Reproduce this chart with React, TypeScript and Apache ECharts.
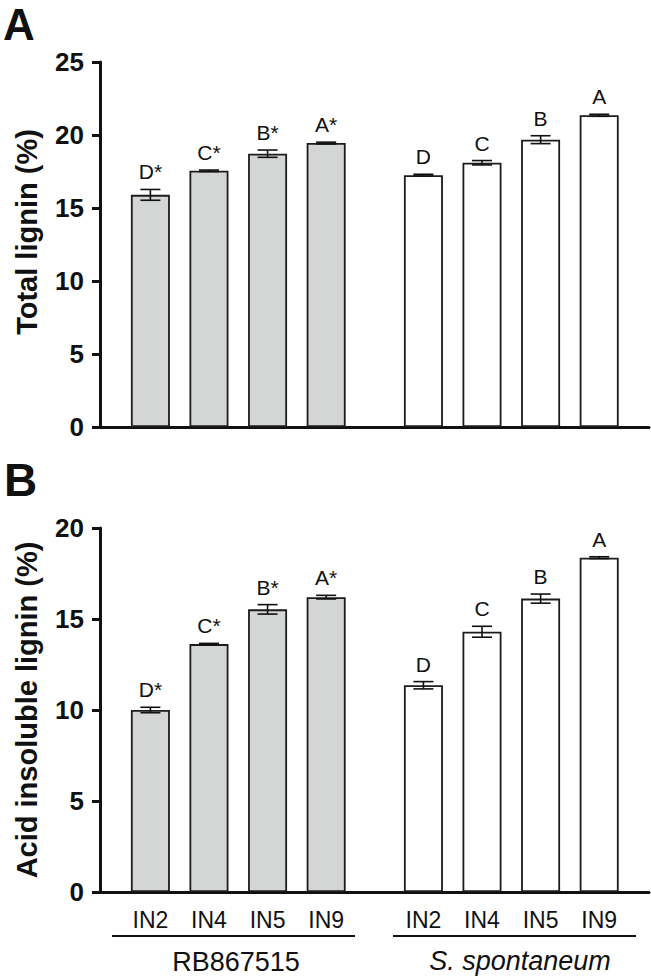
import React, { useEffect, useRef } from "react";
import * as echarts from "echarts";

// ---------- data ----------
const intervals = ["IN2", "IN4", "IN5", "IN9"];
const genotypes = ["RB867515", "S. spontaneum"];

// Panel A: total lignin (%)
const totalRB = [15.9, 17.55, 18.72, 19.45];
const totalRBErr = [0.37, 0.05, 0.25, 0.06];
const totalRBLetters = ["D*", "C*", "B*", "A*"];
const totalSS = [17.25, 18.1, 19.68, 21.35];
const totalSSErr = [0.06, 0.15, 0.27, 0.07];
const totalSSLetters = ["D", "C", "B", "A"];

// Panel B: acid insoluble lignin (%)
const ailRB = [10.0, 13.62, 15.53, 16.2];
const ailRBErr = [0.15, 0.04, 0.26, 0.1];
const ailRBLetters = ["D*", "C*", "B*", "A*"];
const ailSS = [11.36, 14.3, 16.12, 18.37];
const ailSSErr = [0.2, 0.3, 0.25, 0.05];
const ailSSLetters = ["D", "C", "B", "A"];

const yMaxA = 25;
const yMaxB = 20;
const yStep = 5;

// category slots on the x scale (group start, one slot per internode)
const groupStart = [1, 5.66];
const xMin = 0.14;
const xMax = 9.51;

const FONT = "'Liberation Sans', Arial, Helvetica, sans-serif";
const INK = "#111111";
const GREY = "#d4d6d5";

const positions = (g: number) => intervals.map((_, i) => groupStart[g] + i);

function barSeries(name: string, g: number, values: number[], color: string, axis: number) {
  const pos = positions(g);
  return {
    type: "bar",
    name,
    xAxisIndex: axis,
    yAxisIndex: axis,
    barWidth: 39,
    barGap: "-100%",
    data: values.map((v, i) => [pos[i], v]),
    itemStyle: { color, borderColor: "#1c1c1c", borderWidth: 1.8 },
    z: 2,
  };
}

function errSeries(g: number, values: number[], errs: number[], letters: string[], axis: number) {
  const pos = positions(g);
  return {
    type: "custom",
    xAxisIndex: axis,
    yAxisIndex: axis,
    z: 5,
    clip: false,
    data: values.map((v, i) => [pos[i], v, errs[i]]),
    renderItem: (params: any, api: any) => {
      const x = api.value(0);
      const m = api.value(1);
      const e = api.value(2);
      const top = api.coord([x, m + e]);
      const bot = api.coord([x, m - e]);
      const cap = 10;
      const ls = { stroke: INK, lineWidth: 1.6 };
      return {
        type: "group",
        children: [
          { type: "line", shape: { x1: top[0], y1: top[1], x2: bot[0], y2: bot[1] }, style: ls },
          { type: "line", shape: { x1: top[0] - cap, y1: top[1], x2: top[0] + cap, y2: top[1] }, style: ls },
          { type: "line", shape: { x1: bot[0] - cap, y1: bot[1], x2: bot[0] + cap, y2: bot[1] }, style: ls },
          {
            type: "text",
            x: top[0],
            y: top[1] - 7,
            style: {
              text: letters[params.dataIndex],
              fontSize: 21,
              fontFamily: FONT,
              fill: INK,
              textAlign: "center",
              textVerticalAlign: "bottom",
            },
          },
        ],
      };
    },
  };
}

function yAxisCfg(grid: number, max: number) {
  return {
    type: "value",
    gridIndex: grid,
    min: 0,
    max,
    interval: yStep,
    axisLine: { show: true, lineStyle: { color: INK, width: 3 } },
    axisTick: { show: true, length: 8, inside: false, lineStyle: { color: INK, width: 3 } },
    axisLabel: { color: INK, fontSize: 26, fontWeight: "bold", fontFamily: FONT, margin: 16 },
    splitLine: { show: false },
  };
}

const allPos = [...positions(0), ...positions(1)];

export default function App() {
  const ref = useRef<HTMLDivElement>(null);

  useEffect(() => {
    if (!ref.current) return;
    const chart = echarts.init(ref.current, undefined, { renderer: "svg" });
    chart.setOption({
      animation: false,
      backgroundColor: "#ffffff",
      grid: [
        { left: 100, top: 62, width: 549, height: 365 },
        { left: 100, top: 528, width: 549, height: 364 },
      ],
      xAxis: [
        {
          type: "value",
          gridIndex: 0,
          min: xMin,
          max: xMax,
          axisLine: { show: true, onZero: false, lineStyle: { color: INK, width: 3 } },
          axisTick: { show: false },
          axisLabel: { show: false },
          splitLine: { show: false },
        },
        {
          type: "value",
          gridIndex: 1,
          min: xMin,
          max: xMax,
          axisLine: { show: true, onZero: false, lineStyle: { color: INK, width: 3 } },
          axisTick: { show: false },
          axisLabel: {
            show: true,
            customValues: allPos,
            color: INK,
            fontSize: 23,
            fontFamily: FONT,
            margin: 16,
            formatter: (v: number) => {
              let best = 0;
              allPos.forEach((p, i) => {
                if (Math.abs(p - v) < Math.abs(allPos[best] - v)) best = i;
              });
              return intervals[best % intervals.length];
            },
          },
          splitLine: { show: false },
        },
      ],
      yAxis: [yAxisCfg(0, yMaxA), yAxisCfg(1, yMaxB)],
      series: [
        barSeries(genotypes[0], 0, totalRB, GREY, 0),
        barSeries(genotypes[1], 1, totalSS, "#ffffff", 0),
        errSeries(0, totalRB, totalRBErr, totalRBLetters, 0),
        errSeries(1, totalSS, totalSSErr, totalSSLetters, 0),
        barSeries(genotypes[0], 0, ailRB, GREY, 1),
        barSeries(genotypes[1], 1, ailSS, "#ffffff", 1),
        errSeries(0, ailRB, ailRBErr, ailRBLetters, 1),
        errSeries(1, ailSS, ailSSErr, ailSSLetters, 1),
      ],
      graphic: [
        {
          type: "text",
          x: 3,
          y: 24,
          style: {
            text: "A",
            font: `bold 44px ${FONT}`,
            fill: INK,
            textAlign: "left",
            textVerticalAlign: "middle",
          },
        },
        {
          type: "text",
          x: 4,
          y: 480,
          style: {
            text: "B",
            font: `bold 46px ${FONT}`,
            fill: INK,
            textAlign: "left",
            textVerticalAlign: "middle",
          },
        },
        {
          type: "text",
          x: 27,
          y: 232,
          rotation: Math.PI / 2,
          style: {
            text: "Total lignin (%)",
            font: `bold 29px ${FONT}`,
            fill: INK,
            textAlign: "center",
            textVerticalAlign: "middle",
          },
        },
        {
          type: "text",
          x: 27,
          y: 710,
          rotation: Math.PI / 2,
          style: {
            text: "Acid insoluble lignin (%)",
            font: `bold 29px ${FONT}`,
            fill: INK,
            textAlign: "center",
            textVerticalAlign: "middle",
          },
        },
        { type: "line", shape: { x1: 112, y1: 936, x2: 355, y2: 936 }, style: { stroke: INK, lineWidth: 2 } },
        { type: "line", shape: { x1: 393, y1: 936, x2: 636, y2: 936 }, style: { stroke: INK, lineWidth: 2 } },
        {
          type: "text",
          x: 236,
          y: 962,
          style: { text: genotypes[0], font: `27px ${FONT}`, fill: INK, textAlign: "center", textVerticalAlign: "middle" },
        },
        {
          type: "text",
          x: 520,
          y: 961,
          style: { text: genotypes[1], font: `italic 27px ${FONT}`, fill: INK, textAlign: "center", textVerticalAlign: "middle" },
        },
      ],
    });
    return () => chart.dispose();
  }, []);

  return (
    <div
      ref={ref}
      style={{ position: "absolute", left: 0, top: 0, width: 651, height: 979, background: "#ffffff" }}
    />
  );
}
